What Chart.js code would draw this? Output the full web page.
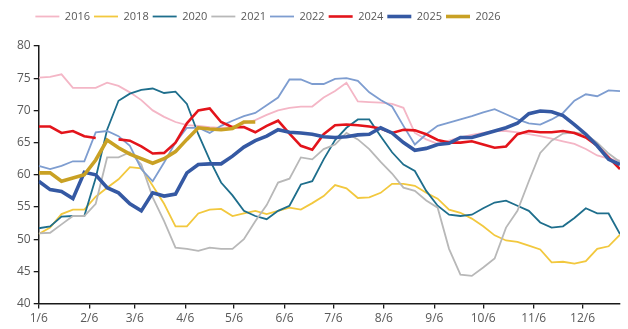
<!DOCTYPE html>
<html>
<head>
<meta charset="utf-8">
<script src="https://cdn.jsdelivr.net/npm/chart.js@4.4.1/dist/chart.umd.min.js"></script>
<style>
  html, body { margin: 0; padding: 0; background: #fff; }
  #wrap { width: 628px; height: 329px; }
</style>
</head>
<body>
<div id="wrap"><canvas id="chart"></canvas></div>
<script>
// weekly observation dates (month/day)
var weeks = ['1/6','1/13','1/20','1/27','2/3','2/10','2/17','2/24','3/3','3/10','3/17','3/24','3/31',
  '4/7','4/14','4/21','4/28','5/5','5/12','5/19','5/26','6/2','6/9','6/16','6/23','6/30',
  '7/7','7/14','7/21','7/28','8/4','8/11','8/18','8/25','9/1','9/8','9/15','9/22','9/29',
  '10/6','10/13','10/20','10/27','11/3','11/10','11/17','11/24','12/1','12/8','12/15','12/22','12/29'];
var monthTicks = ['1/6','2/6','3/6','4/6','5/6','6/6','7/6','8/6','9/6','10/6','11/6','12/6'];

var y2016 = [75.1,75.2,75.6,73.5,73.5,73.5,74.3,73.8,72.8,71.6,70.0,69.0,68.2,67.7,67.6,67.4,67.3,67.4,68.0,68.5,
  69.3,70.0,70.4,70.6,70.6,72.0,73.0,74.3,71.4,71.3,71.2,71.0,70.4,66.5,65.5,64.8,65.3,65.8,66.2,66.5,
  66.8,66.8,66.6,66.3,66.0,65.6,65.2,64.8,64.0,63.0,62.5,62.2];
var y2018 = [50.8,51.8,53.9,54.6,54.6,56.6,58.0,59.3,61.2,61.0,58.3,55.5,52.0,52.0,54.0,54.6,54.7,53.6,54.0,54.4,
  53.9,54.4,54.9,54.6,55.6,56.7,58.4,57.9,56.4,56.5,57.2,58.6,58.6,58.3,57.2,56.3,54.6,54.1,53.2,52.0,
  50.6,49.8,49.6,49.0,48.4,46.4,46.5,46.2,46.6,48.5,48.9,50.7];
var y2020 = [51.7,52.0,53.5,53.6,53.6,59.5,67.0,71.5,72.6,73.2,73.4,72.7,72.9,71.0,66.3,62.3,58.8,56.8,54.4,53.6,
  53.1,54.4,55.2,58.5,59.0,62.4,65.4,67.3,68.6,68.6,66.0,63.5,61.6,60.6,57.5,55.2,53.8,53.6,53.8,54.8,
  55.7,56.0,55.2,54.4,52.6,51.8,52.0,53.3,54.8,54.0,54.0,50.8];
var y2021 = [50.9,51.0,52.3,53.6,53.6,55.5,62.7,62.7,63.5,61.6,56.5,52.8,48.7,48.5,48.2,48.7,48.5,48.5,50.0,52.8,
  55.3,58.8,59.4,62.7,62.4,64.0,64.7,66.5,65.5,64.0,62.0,60.2,58.0,57.5,56.0,54.9,48.5,44.5,44.3,45.6,
  47.0,51.8,54.4,59.0,63.4,65.3,66.4,66.6,66.3,65.0,63.3,62.0];
var y2022 = [61.4,60.9,61.4,62.1,62.1,66.6,66.8,66.0,64.5,60.9,59.0,61.9,65.0,67.3,67.3,66.5,67.6,68.4,69.1,69.6,
  70.8,72.0,74.8,74.8,74.1,74.1,74.9,75.0,74.6,72.8,71.6,70.6,67.6,64.7,66.3,67.6,68.1,68.6,69.1,69.7,
  70.2,69.4,68.6,68.0,67.8,68.6,69.6,71.5,72.5,72.2,73.1,73.0];
var y2024 = [67.5,67.5,66.5,66.8,66.0,65.7,null,65.5,65.3,64.4,63.3,63.4,65.0,68.0,70.0,70.3,68.2,67.4,67.4,66.6,
  67.6,68.4,66.4,64.5,63.9,66.3,67.7,67.8,67.7,67.5,67.2,66.5,67.0,66.9,66.3,65.4,65.0,65.0,65.2,64.7,
  64.2,64.4,66.3,66.8,66.6,66.6,66.8,66.5,65.8,64.5,62.7,60.9];
var y2025 = [59.0,57.7,57.4,56.3,60.4,60.0,58.0,57.2,55.5,54.4,57.2,56.7,57.0,60.3,61.6,61.7,61.7,62.9,64.3,65.3,
  66.0,67.0,66.6,66.5,66.3,65.9,65.8,65.9,66.2,66.3,67.3,66.5,65.0,63.8,64.1,64.7,64.9,65.8,65.8,66.3,
  66.8,67.3,68.0,69.5,69.9,69.8,69.2,67.8,66.3,64.5,62.4,61.6];
var y2026 = [60.3,60.3,59.0,59.5,60.0,62.3,65.4,64.2,63.2,62.5,61.8,62.5,63.6,65.5,67.3,67.1,67.0,67.2,68.2,68.2];

var cumDays = [0,31,59,90,120,151,181,212,243,273,304,334];
function dayOf(md) {
  var p = md.split('/');
  return cumDays[+p[0] - 1] + (+p[1]) - 6;
}
function pts(vals) {
  return vals.map(function (v, i) { return { x: dayOf(weeks[i]), y: v }; });
}

var series = [
  { label: '2016', data: y2016, color: '#F4B6C6', width: 1.8 },
  { label: '2018', data: y2018, color: '#F2C83E', width: 1.8 },
  { label: '2020', data: y2020, color: '#1E6E8C', width: 1.8 },
  { label: '2021', data: y2021, color: '#B8B8B8', width: 1.8 },
  { label: '2022', data: y2022, color: '#7E9DD0', width: 1.8 },
  { label: '2024', data: y2024, color: '#E3141B', width: 2.6 },
  { label: '2025', data: y2025, color: '#3559A3', width: 3.6 },
  { label: '2026', data: y2026, color: '#C9A124', width: 3.6 }
];

var datasets = series.map(function (s, i) {
  return {
    label: s.label,
    data: pts(s.data),
    borderColor: s.color,
    backgroundColor: s.color,
    borderWidth: s.width,
    pointRadius: 0,
    tension: 0,
    order: series.length - i
  };
});

// legend sits left of centre and leaves a gap above the plot
var legendShift = {
  id: 'legendShift',
  beforeInit: function (chart) {
    var fit = chart.legend.fit;
    chart.legend.fit = function () {
      fit.call(this);
      this.height += 14;
    };
  },
  afterLayout: function (chart) {
    chart.legend.left -= 49;
    chart.legend.right -= 49;
  }
};

var axisColor = '#1a1a1a';
var textColor = '#595959';

new Chart(document.getElementById('chart'), {
  type: 'line',
  data: { datasets: datasets },
  plugins: [legendShift],
  options: {
    responsive: true,
    maintainAspectRatio: false,
    animation: false,
    layout: { padding: { left: 14, right: 8, top: 7, bottom: 0 } },
    plugins: {
      tooltip: { enabled: false },
      legend: {
        position: 'top',
        labels: {
          usePointStyle: true,
          pointStyle: 'line',
          pointStyleWidth: 24,
          boxHeight: 11,
          padding: 4,
          color: textColor,
          font: { family: 'Open Sans', size: 11 },
          sort: function (a, b) { return a.datasetIndex - b.datasetIndex; }
        }
      }
    },
    scales: {
      x: {
        type: 'linear',
        min: 0,
        max: dayOf('12/29'),
        afterBuildTicks: function (axis) {
          axis.ticks = monthTicks.map(function (t) { return { value: dayOf(t) }; });
        },
        ticks: {
          autoSkip: false,
          maxRotation: 0,
          color: textColor,
          font: { family: 'Open Sans', size: 12 },
          padding: 3,
          callback: function (v) {
            for (var k = 0; k < monthTicks.length; k++) {
              if (dayOf(monthTicks[k]) === v) return monthTicks[k];
            }
            return '';
          }
        },
        grid: { drawOnChartArea: false, drawTicks: true, tickLength: 5, color: axisColor, lineWidth: 1.3 },
        border: { display: true, color: axisColor, width: 1.5 }
      },
      y: {
        min: 40,
        max: 80,
        ticks: {
          stepSize: 5,
          color: textColor,
          font: { family: 'Open Sans', size: 12 },
          padding: 3
        },
        grid: { drawOnChartArea: false, drawTicks: true, tickLength: 5, color: axisColor, lineWidth: 1.3 },
        border: { display: true, color: axisColor, width: 1.5 }
      }
    }
  }
});
</script>
</body>
</html>
